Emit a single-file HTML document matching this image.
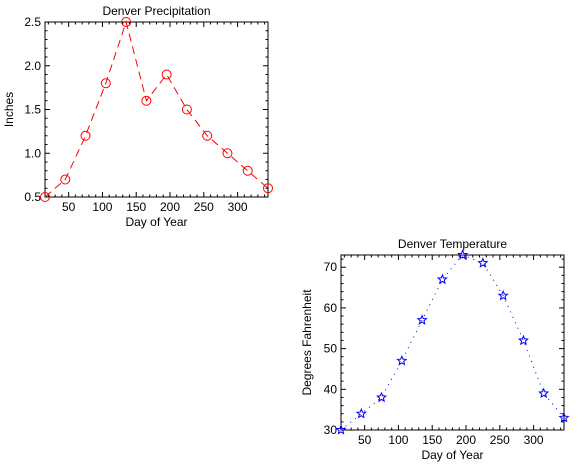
<!DOCTYPE html>
<html><head><meta charset="utf-8"><style>
html,body{margin:0;padding:0;background:#fff;}
svg{display:block;font-family:"Liberation Sans",sans-serif;}
</style></head><body>
<svg id="c" width="588" height="464" viewBox="0 0 588 464"></svg>
<script>
const days = [15,45,75,105,135,165,195,225,255,285,315,345];
const precip = [0.5,0.7,1.2,1.8,2.5,1.6,1.9,1.5,1.2,1.0,0.8,0.6];
const temps = [30,34,38,47,57,67,73,71,63,52,39,33];
const xTicks = [50,100,150,200,250,300];
const precipTicks = [0.5,1.0,1.5,2.0,2.5];
const tempTicks = [30,40,50,60,70];

const svg = document.getElementById('c');
const NS = 'http://www.w3.org/2000/svg';
function mk(tag, attrs, parent){
  const e = document.createElementNS(NS, tag);
  for (const k in attrs) e.setAttribute(k, attrs[k]);
  (parent||svg).appendChild(e);
  return e;
}
function panel(cfg){
  const g = mk('g', {});
  
  
  const sx = v => cfg.x0 + (v - 15) / 330 * (cfg.x1 - cfg.x0);
  const sy = v => cfg.y1 - (v - cfg.ymin) / (cfg.ymax - cfg.ymin) * (cfg.y1 - cfg.y0);
  const box = mk('rect', {x:cfg.x0, y:cfg.y0, width:cfg.x1-cfg.x0, height:cfg.y1-cfg.y0, fill:'none', stroke:'#000', 'stroke-width':1}, g);
  
  
  // x minor ticks
  for (let v = 20; v <= 340; v += 10) {
    const L = (v % 50 === 0) ? 5 : 2.5;
    const X = sx(v);
    mk('line', {x1:X, x2:X, y1:cfg.y1, y2:cfg.y1-L, stroke:'#000'}, g);
    mk('line', {x1:X, x2:X, y1:cfg.y0, y2:cfg.y0+L, stroke:'#000'}, g);
  }
  xTicks.forEach(v => {
    const t = mk('text', {x:sx(v), y:cfg.y1+14, 'text-anchor':'middle', 'font-size':12}, g);
    t.textContent = v;
    
    
  });
  // y ticks
  for (let v = cfg.ymin; v <= cfg.ymax + 1e-9; v += cfg.minor) {
    const isMaj = Math.abs(Math.round(v / cfg.major) * cfg.major - v) < 1e-6;
    const L = isMaj ? 5 : 2.5;
    const Y = sy(v);
    mk('line', {x1:cfg.x0, x2:cfg.x0+L, y1:Y, y2:Y, stroke:'#000'}, g);
    mk('line', {x1:cfg.x1, x2:cfg.x1-L, y1:Y, y2:Y, stroke:'#000'}, g);
  }
  cfg.yTicks.forEach(v => {
    const t = mk('text', {x:cfg.x0-4, y:sy(v)+4, 'text-anchor':'end', 'font-size':12}, g);
    t.textContent = cfg.fmt(v);
    
    
  });
  const title = mk('text', {x:(cfg.x0+cfg.x1)/2, y:cfg.y0-7, 'text-anchor':'middle', 'font-size':12}, g);
  title.textContent = cfg.title;
  
  
  const xl = mk('text', {x:(cfg.x0+cfg.x1)/2, y:cfg.y1+29, 'text-anchor':'middle', 'font-size':12}, g);
  xl.textContent = 'Day of Year';
  
  
  const yc = (cfg.y0+cfg.y1)/2;
  const yl = mk('text', {x:cfg.ylx, y:yc, 'text-anchor':'middle', 'font-size':12, transform:`rotate(-90 ${cfg.ylx} ${yc})`}, g);
  yl.textContent = cfg.ytitle;
  
  
  // line
  const pts = days.map((d,i) => sx(d).toFixed(1) + ',' + sy(cfg.vals[i]).toFixed(1)).join(' ');
  const pl = mk('polyline', {points:pts, fill:'none', stroke:cfg.color, 'stroke-width':1, 'stroke-dasharray':cfg.dash}, g);
  
  
  days.forEach((d,i) => {
    const X = sx(d), Y = sy(cfg.vals[i]);
    let m;
    if (cfg.marker === 'circle') {
      m = mk('circle', {cx:X, cy:Y, r:4.5, fill:'none', stroke:cfg.color}, g);
    } else {
      let p = [];
      for (let k = 0; k < 10; k++) {
        const r = k % 2 ? 2 : 4.5, a = -Math.PI/2 + k*Math.PI/5;
        p.push((X + r*Math.cos(a)).toFixed(1) + ',' + (Y + r*Math.sin(a)).toFixed(1));
      }
      m = mk('polygon', {points:p.join(' '), fill:'none', stroke:cfg.color}, g);
    }
    
    
  });
}
panel({name:'precipitation-chart', x0:45, x1:268, y0:22, y1:197, ymin:0.5, ymax:2.5, minor:0.1, major:0.5,
  yTicks:precipTicks, fmt:v=>v.toFixed(1), title:'Denver Precipitation', ytitle:'Inches', ylx:13,
  vals:precip, color:'#f00', dash:'8,5', marker:'circle'});
panel({name:'temperature-chart', x0:341, x1:564, y0:255, y1:430, ymin:30, ymax:73, minor:2, major:10,
  yTicks:tempTicks, fmt:v=>String(v), title:'Denver Temperature', ytitle:'Degrees Fahrenheit', ylx:311,
  vals:temps, color:'#00f', dash:'1,5', marker:'star'});
</script>
</body></html>
